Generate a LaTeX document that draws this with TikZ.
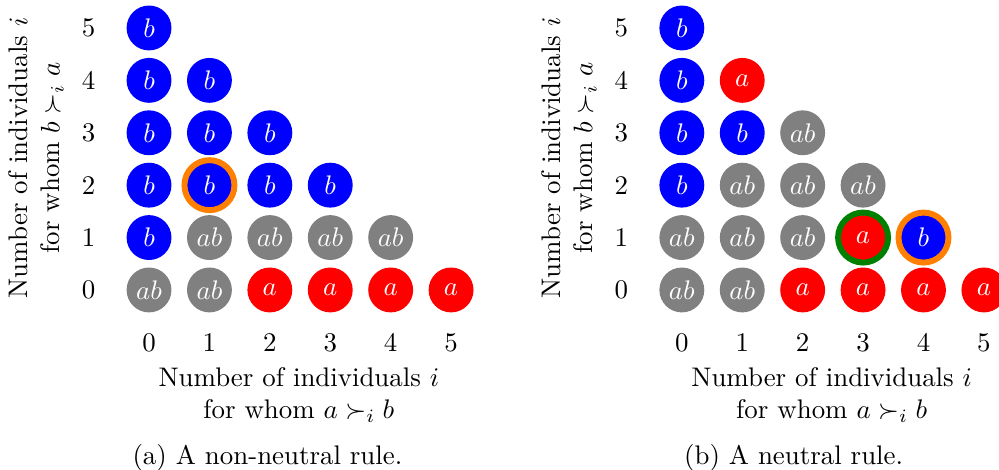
\documentclass[tikz,border=0pt]{standalone}

\tikzset{
  cell/.style={circle, minimum size=16.7pt, inner sep=0pt, text=white},
  ring/.style={line width=2.2pt},
}

\begin{document}
\begin{tikzpicture}[x=22.47pt, y=19.49pt]
  \useasboundingbox (-2.467,-3.435) rectangle (14.07,5.534);

  % Left panel: a non-neutral rule
  \begin{scope}
    % Outcomes for each pair of counts
    \foreach \c/\r/\s/\f in {0/5/b/blue,
        0/4/b/blue, 1/4/b/blue,
        0/3/b/blue, 1/3/b/blue, 2/3/b/blue,
        0/2/b/blue, 1/2/b/blue, 2/2/b/blue, 3/2/b/blue,
        0/1/b/blue, 1/1/ab/gray, 2/1/ab/gray, 3/1/ab/gray, 4/1/ab/gray,
        0/0/ab/gray, 1/0/ab/gray, 2/0/a/red, 3/0/a/red, 4/0/a/red, 5/0/a/red} {
      \node[cell, fill=\f] (l\c\r) at (\c,\r) {$\s$};
    }
    \draw[ring, orange] (l12) circle (9.3pt);

    % Axis numbers
    \foreach \n in {0,...,5} {
      \node (lrow\n) at (-1,\n) {\n};
      \node (lcol\n) at (\n,-1) {\n};
    }
    \node[rotate=90, align=center] (lylab) at (-1.87,2.52)
      {Number of individuals $i$\\for whom $b \succ_i a$};
    \node[align=center] (lxlab) at (2.48,-2.0)
      {Number of individuals $i$\\for whom $a \succ_i b$};
    \node (lcap) at (1.96,-3.2) {(a) A non-neutral rule.};
  \end{scope}

  % Right panel: a neutral rule
  \begin{scope}[shift={(8.82,0)}]
    \foreach \c/\r/\s/\f in {0/5/b/blue,
        0/4/b/blue, 1/4/a/red,
        0/3/b/blue, 1/3/b/blue, 2/3/ab/gray,
        0/2/b/blue, 1/2/ab/gray, 2/2/ab/gray, 3/2/ab/gray,
        0/1/ab/gray, 1/1/ab/gray, 2/1/ab/gray, 3/1/a/red, 4/1/b/blue,
        0/0/ab/gray, 1/0/ab/gray, 2/0/a/red, 3/0/a/red, 4/0/a/red, 5/0/a/red} {
      \node[cell, fill=\f] (r\c\r) at (\c,\r) {$\s$};
    }
    \draw[ring, green!50!black] (r31) circle (9.3pt);
    \draw[ring, orange] (r41) circle (9.3pt);

    % Axis numbers
    \foreach \n in {0,...,5} {
      \node (rrow\n) at (-1,\n) {\n};
      \node (rcol\n) at (\n,-1) {\n};
    }
    \node[rotate=90, align=center] (rylab) at (-1.87,2.52)
      {Number of individuals $i$\\for whom $b \succ_i a$};
    \node[align=center] (rxlab) at (2.48,-2.0)
      {Number of individuals $i$\\for whom $a \succ_i b$};
    \node (rcap) at (1.85,-3.2) {(b) A neutral rule.};
  \end{scope}
\end{tikzpicture}
\end{document}
